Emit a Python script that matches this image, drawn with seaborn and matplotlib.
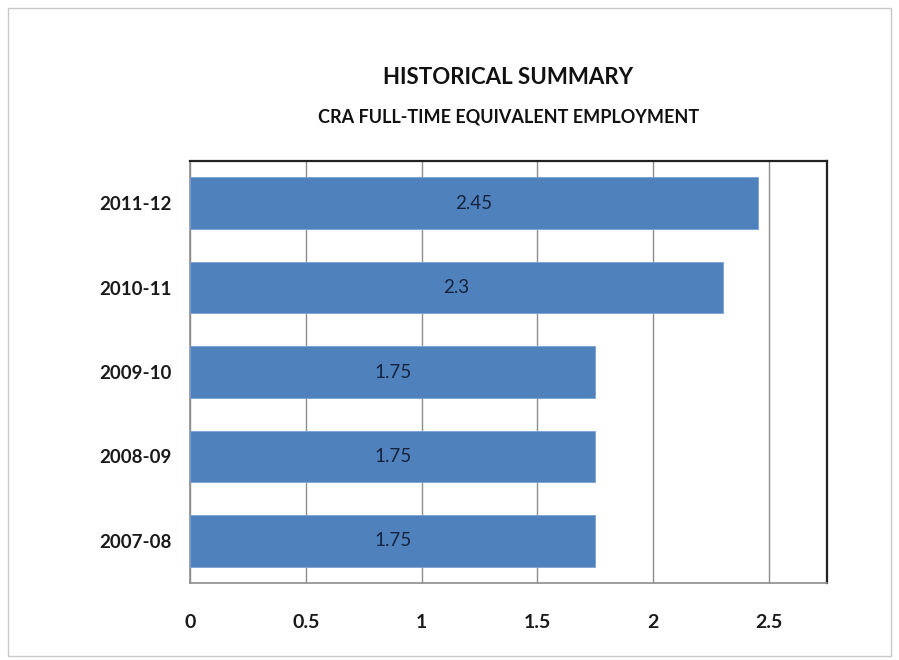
import matplotlib
matplotlib.use("Agg")
import matplotlib.pyplot as plt
import seaborn as sns
import pandas as pd
import numpy as np
from matplotlib.patches import Rectangle

years = ["2011-12", "2010-11", "2009-10", "2008-09", "2007-08"]
fte = [2.45, 2.3, 1.75, 1.75, 1.75]
xticks = [0, 0.5, 1, 1.5, 2, 2.5]
xtick_labels = ["0", "0.5", "1", "1.5", "2", "2.5"]
title = "HISTORICAL SUMMARY"
subtitle = "CRA FULL-TIME EQUIVALENT EMPLOYMENT"

sns.set_style("white")
plt.rcParams['font.family'] = ['Lato', 'DejaVu Sans']

df = pd.DataFrame({"year": years, "fte": fte})

fig = plt.figure(figsize=(8.99, 6.6), dpi=100)
# outer chart border
fig.patches.append(Rectangle((8/899, 4/660), 883/899, 648/660, transform=fig.transFigure,
                             fill=False, edgecolor="#c8c8c8", linewidth=1.0))
ax = fig.add_axes([190/899, 1 - 583/660, (827 - 190)/899, (583 - 161)/660])

sns.barplot(data=df, x="fte", y="year", order=years, orient="h", color="#4F81BD",
            saturation=1, width=0.61, ax=ax, edgecolor="#7ba3d6", linewidth=0.6, zorder=3)

ax.set_xlim(0, 2.75)
ax.set_ylim(len(years) - 0.5, -0.5)
ax.set_xticks(xticks)
ax.set_xticklabels(xtick_labels, fontsize=14, fontweight="bold", color="#1a1a1a")
ax.set_yticks(range(len(years)))
ax.set_yticklabels(years, fontsize=13.5, fontweight="bold", color="#1a1a1a")
ax.tick_params(axis="y", length=0, pad=13)
ax.tick_params(axis="x", length=0, pad=22)
ax.set_yticks(np.arange(-0.5, len(years), 1), minor=True)
ax.tick_params(axis="y", which="minor", length=4, color="#a0a0a0", direction="out")
ax.set_xlabel("")
ax.set_ylabel("")

ax.grid(axis="x", color="#8c8c8c", linewidth=1.0, zorder=0)
ax.set_axisbelow(True)

for side in ["top", "right"]:
    ax.spines[side].set_color("#222222")
    ax.spines[side].set_linewidth(1.6)
for side in ["left", "bottom"]:
    ax.spines[side].set_color("#8c8c8c")
    ax.spines[side].set_linewidth(1.2)

for c in ax.containers:
    ax.bar_label(c, labels=[f"{v:g}" for v in c.datavalues], label_type="center",
                 fontsize=13.5, color="#17233d", zorder=4)

ax.text(0.5, 1 + 83/422, title, transform=ax.transAxes, ha="center", va="center",
        fontsize=16, fontweight="bold", color="#111111")
ax.text(0.5, 1 + 44/422, subtitle, transform=ax.transAxes, ha="center", va="center",
        fontsize=13, fontweight="bold", color="#111111")

fig.savefig("out.png", dpi=100)
